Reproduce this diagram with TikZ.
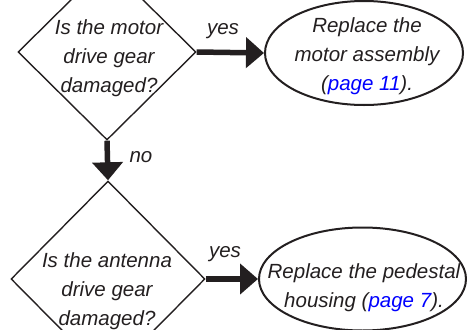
\documentclass[tikz,border=0pt]{standalone}
\usepackage{fontspec}
\setmainfont{Liberation Sans}
\usetikzlibrary{shapes.geometric,arrows.meta}
\definecolor{ink}{RGB}{35,31,32}
\definecolor{linkblue}{RGB}{0,0,255}
\newcommand{\pref}[1]{\textcolor{linkblue}{#1}}
\tikzset{
  every node/.style={text=ink},
  txt/.style={font=\itshape\fontsize{20.5}{29}\selectfont, align=center, inner sep=0pt},
  decision/.style={diamond, draw=ink, line width=1.4pt, inner sep=0pt, minimum width=#1},
  action/.style={ellipse, draw=ink, line width=2pt, inner sep=0pt},
  flow/.style={draw=ink, line width=5.5pt, -{Triangle[length=18pt,width=30pt]}},
  lbl/.style={font=\itshape\fontsize{20.5}{24}\selectfont, inner sep=0pt}
}
\begin{document}
\begin{tikzpicture}[x=1pt,y=-1pt]
  \useasboundingbox (0,0) rectangle (467,330);
  % decisions
  \node[decision=178pt, minimum height=176pt] (q1) at (107,52) {};
  \node[txt] (q1t) at (109,58) {Is the motor\\drive gear\\damaged?};
  \node[decision=194pt, minimum height=196pt] (q2) at (108,279) {};
  \node[txt] (q2t) at (107,291) {Is the antenna\\drive gear\\damaged?};
  % actions
  \node[action, minimum width=198pt, minimum height=104pt] (a1) at (364,53) {};
  \node[txt] (a1t) at (367,56) {Replace the\\motor assembly\\(\pref{page 11}).};
  \node[action, minimum width=207pt, minimum height=103pt] (a2) at (362.5,279) {};
  \node[txt] (a2t) at (364,288) {Replace the pedestal\\housing (\pref{page 7}).};
  % connectors
  \draw[flow] (q1.east) -- (a1.west);
  \draw[flow] (q1.south) -- (q2.north);
  \draw[flow] (q2.east) -- (a2.west);
  % branch labels
  \node[lbl] (y1) at (223,31) {yes};
  \node[lbl] (n1) at (141,157) {no};
  \node[lbl] (y2) at (225,254) {yes};
\end{tikzpicture}
\end{document}
